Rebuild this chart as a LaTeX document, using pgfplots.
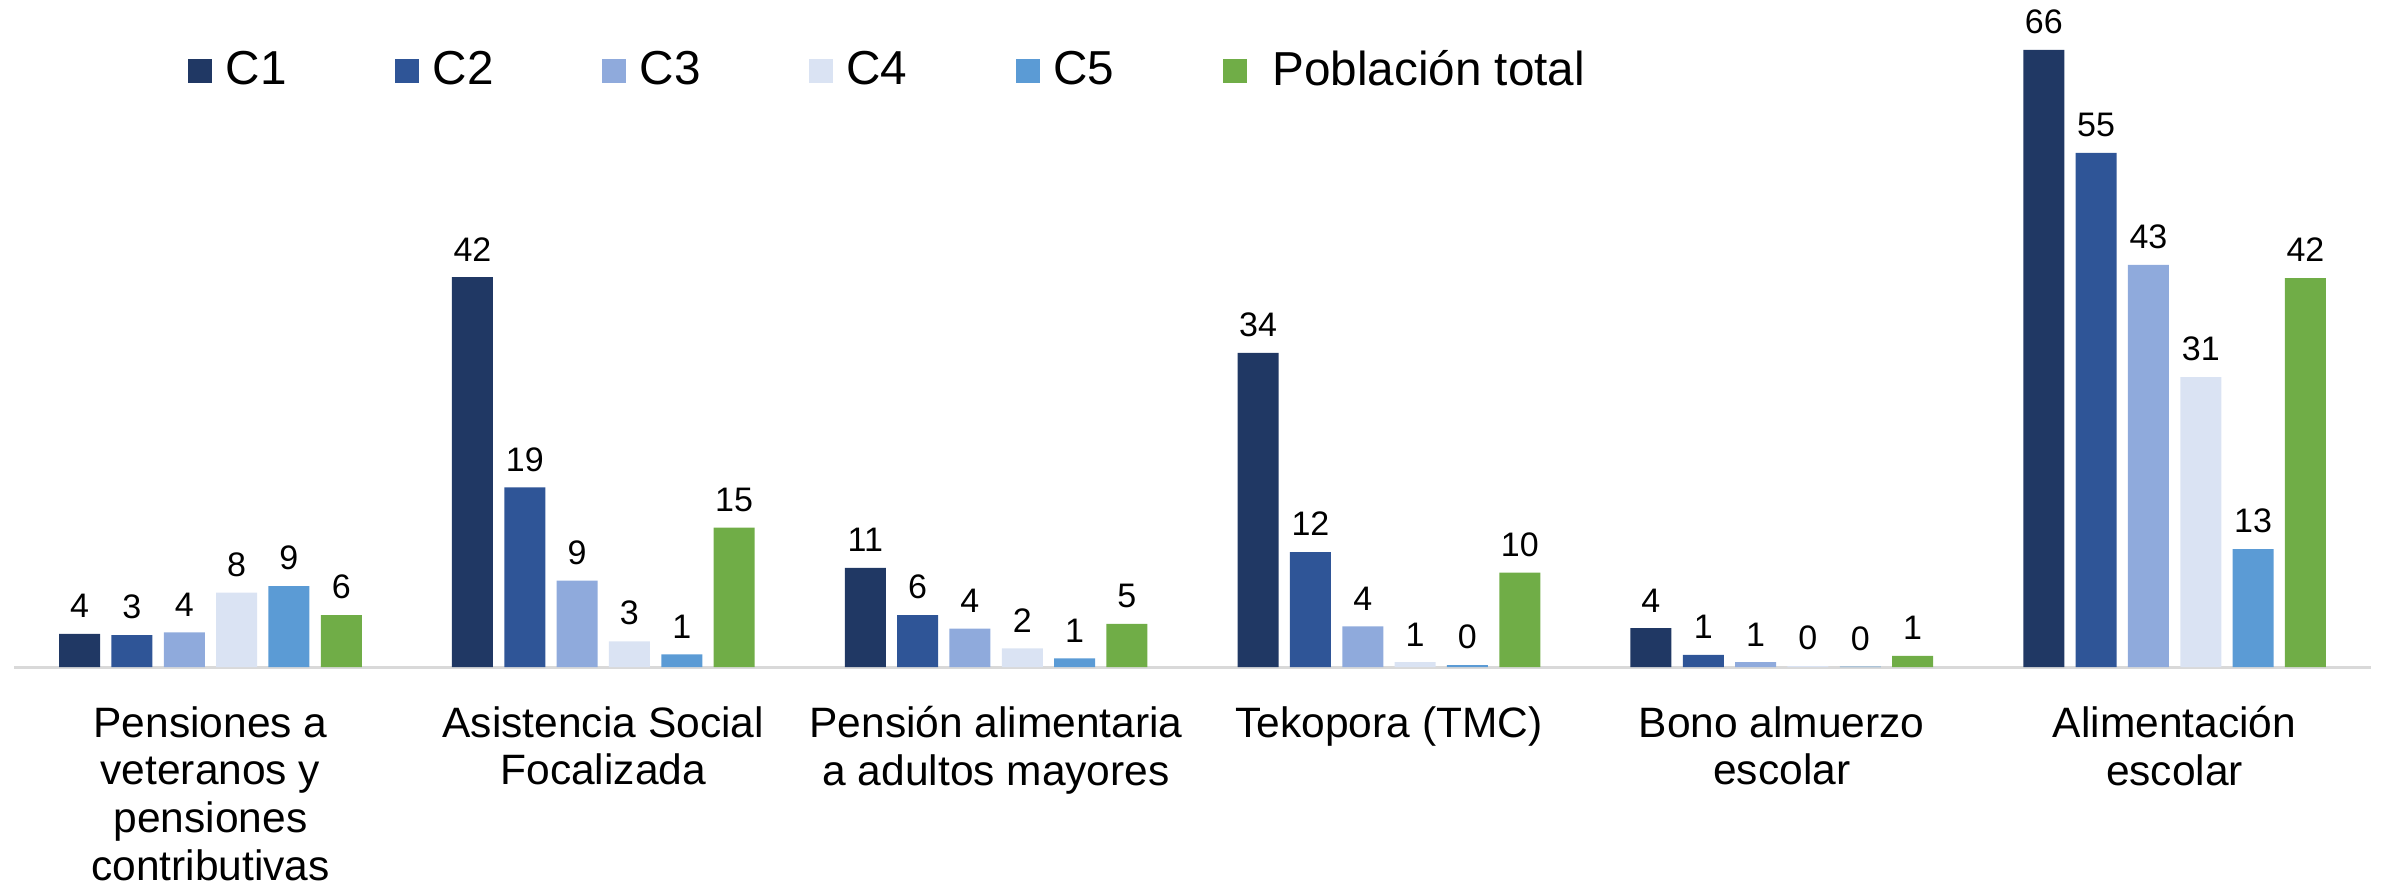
\documentclass[border=0pt]{standalone}
\usepackage{fontspec}
\setmainfont{Liberation Sans}
\usepackage{pgfplots}
\pgfplotsset{compat=1.18}
\usepackage{pgfplotstable}
\definecolor{cA}{HTML}{203864}
\definecolor{cB}{HTML}{2F5597}
\definecolor{cC}{HTML}{8FAADC}
\definecolor{cD}{HTML}{DAE3F3}
\definecolor{cE}{HTML}{5B9BD5}
\definecolor{cF}{HTML}{70AD47}
\definecolor{axisgray}{HTML}{D9D9D9}
\pgfplotstableread{
x C1 C2 C3 C4 C5 PT
0 3.55 3.4 3.7 7.95 8.66 5.55
1 41.7 19.2 9.25 2.75 1.35 14.9
2 10.6 5.55 4.1 2.0 0.93 4.6
3 33.6 12.3 4.35 0.52 0.2 10.1
4 4.15 1.3 0.52 0.1 0.05 1.2
5 66.0 55.0 43.0 31.0 12.6 41.6
}\datatable
\begin{document}
\begin{tikzpicture}
\begin{axis}[
  scale only axis, width=707.1pt, height=196.35pt,
  xmin=-0.5, xmax=5.5, ymin=0, ymax=70,
  ybar=3.4pt, bar width=12.3pt,
  axis y line=none, axis x line=bottom,
  x axis line style={-, draw=axisgray, line width=0.9pt},
  xtick={0,1,2,3,4,5},
  xticklabels={{Pensiones a\\veteranos y\\pensiones\\contributivas},{Asistencia Social\\Focalizada},{Pensión alimentaria\\a adultos mayores},{Tekopora (TMC)},{Bono almuerzo\\escolar},{Alimentación\\escolar}},
  xtick style={draw=none},
  xticklabel style={align=center, font=\fontsize{12.75}{14.3}\selectfont, yshift=-6.1pt},
  nodes near coords,
  nodes near coords style={font=\fontsize{10.2}{12}\selectfont, text=black, yshift=1.3pt},
  clip=false,
  legend columns=6,
  legend style={at={(0.0740,0.9114)}, anchor=west, draw=none, fill=none, inner sep=0pt, outer sep=0pt,
    font=\fontsize{14.3}{17}\selectfont, nodes={inner sep=0pt},
    /tikz/every odd column/.append style={column sep=4pt},
    /tikz/every even column/.append style={column sep=32.6pt}},
  legend image code/.code={\fill[#1] (0pt,-3.6pt) rectangle (7.2pt,3.6pt);},
  /pgf/number format/fixed, /pgf/number format/precision=0,
  /pgf/number format/assume math mode=true,
]
\addplot[fill=cA, draw=none] table[x=x, y=C1] {\datatable};
\addplot[fill=cB, draw=none] table[x=x, y=C2] {\datatable};
\addplot[fill=cC, draw=none] table[x=x, y=C3] {\datatable};
\addplot[fill=cD, draw=none] table[x=x, y=C4] {\datatable};
\addplot[fill=cE, draw=none] table[x=x, y=C5] {\datatable};
\addplot[fill=cF, draw=none] table[x=x, y=PT] {\datatable};
\legend{C1,C2,C3,C4,C5,\hspace{3.6pt}Población total}
\coordinate (O) at (rel axis cs:0,0);
\end{axis}
\pgfresetboundingbox
\path[use as bounding box] (O) ++(-4.2pt,-64.8pt) rectangle ++(714.6pt,264.9pt);
\end{tikzpicture}
\end{document}
